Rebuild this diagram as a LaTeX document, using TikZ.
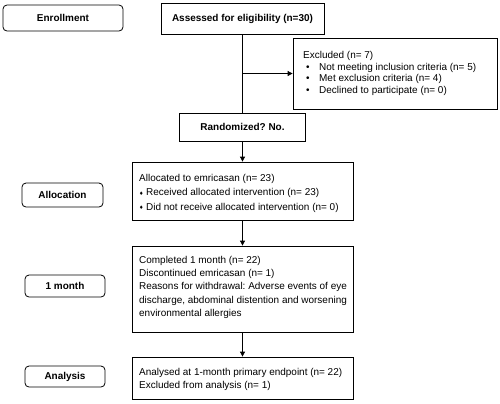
\documentclass[tikz,border=0pt]{standalone}
\usepackage{fontspec}
\setmainfont{Liberation Sans}
\usetikzlibrary{arrows.meta}
\newfontfamily\symfont{DejaVu Sans}
\frenchspacing
\newcommand{\dbul}{{\symfont\fontsize{5}{5}\selectfont\raisebox{0.8bp}{♦}}\hspace{2.5bp}}
\newcommand{\rbul}{\makebox[13bp][l]{•}}
\begin{document}
\begin{tikzpicture}[x=1bp,y=-1bp,
  box/.style={draw, line width=0.8bp, inner sep=0pt},
  lbl/.style={draw, rounded corners=4bp, line width=0.8bp, inner sep=0pt, font=\fontsize{10}{11}\selectfont\bfseries},
  txt/.style={inner sep=0pt, align=left, anchor=north west, font=\fontsize{10}{13}\selectfont},
  arr/.style={-{Triangle[length=5bp,width=5bp]}, line width=0.8bp},
  ln/.style={line width=0.8bp}]
\useasboundingbox[fill=white] (0,0) rectangle (500,403);
% phase labels
\node[lbl, minimum width=120bp, minimum height=26bp] (enr) at (63,18) {Enrollment};
\node[lbl, minimum width=81bp, minimum height=24bp] (alloclbl) at (62.5,195) {Allocation};
\node[lbl, minimum width=80bp, minimum height=22bp] (monlbl) at (65,286) {1 month};
\node[lbl, minimum width=80bp, minimum height=21bp] (analbl) at (65,376.5) {Analysis};
% main boxes
\node[box, minimum width=163bp, minimum height=31bp, font=\fontsize{10}{11}\selectfont\bfseries] (assess) at (242.5,18.5) {Assessed for eligibility (n=30)};
\node[box, minimum width=204bp, minimum height=71bp] (excl) at (395,73.5) {};
\node[txt, font=\fontsize{10}{11.7}\selectfont] (excltxt) at (303,51) {Excluded (n= 7)\\
\hspace*{3bp}\rbul Not meeting inclusion criteria (n= 5)\\
\hspace*{3bp}\rbul Met exclusion criteria (n= 4)\\
\hspace*{3bp}\rbul Declined to participate (n= 0)};
\node[box, minimum width=126bp, minimum height=28bp, font=\fontsize{10}{11}\selectfont\bfseries] (rand) at (242.5,127) {Randomized? No.};
\node[box, minimum width=221bp, minimum height=58bp] (alloc) at (242.5,191) {};
\node[txt, font=\fontsize{10}{14.5}\selectfont] (alloctxt) at (139,174) {Allocated to emricasan (n= 23)\\
\dbul Received allocated intervention (n= 23)\\
\dbul Did not receive allocated intervention (n= 0)};
\node[box, minimum width=221bp, minimum height=86bp] (month) at (242.5,289) {};
\node[txt, font=\fontsize{10}{13.25}\selectfont] (monthtxt) at (139,256) {Completed 1 month (n= 22)\\
Discontinued emricasan (n= 1)\\
Reasons for withdrawal: Adverse events of eye\\
discharge, abdominal distention and worsening\\
environmental allergies};
\node[box, minimum width=221bp, minimum height=42bp] (ana) at (242.5,378) {};
\node[txt] (anatxt) at (139,368) {Analysed at 1-month primary endpoint (n= 22)\\
Excluded from analysis (n= 1)};
% connectors
\coordinate (br) at (assess.south |- excl.west);
\draw[ln] (assess.south) -- (rand.north);
\draw[arr] (br) -- (excl.west);
\draw[arr] (rand.south) -- (alloc.north);
\draw[arr] (alloc.south) -- (month.north);
\draw[arr] (month.south) -- (ana.north);
\end{tikzpicture}
\end{document}
